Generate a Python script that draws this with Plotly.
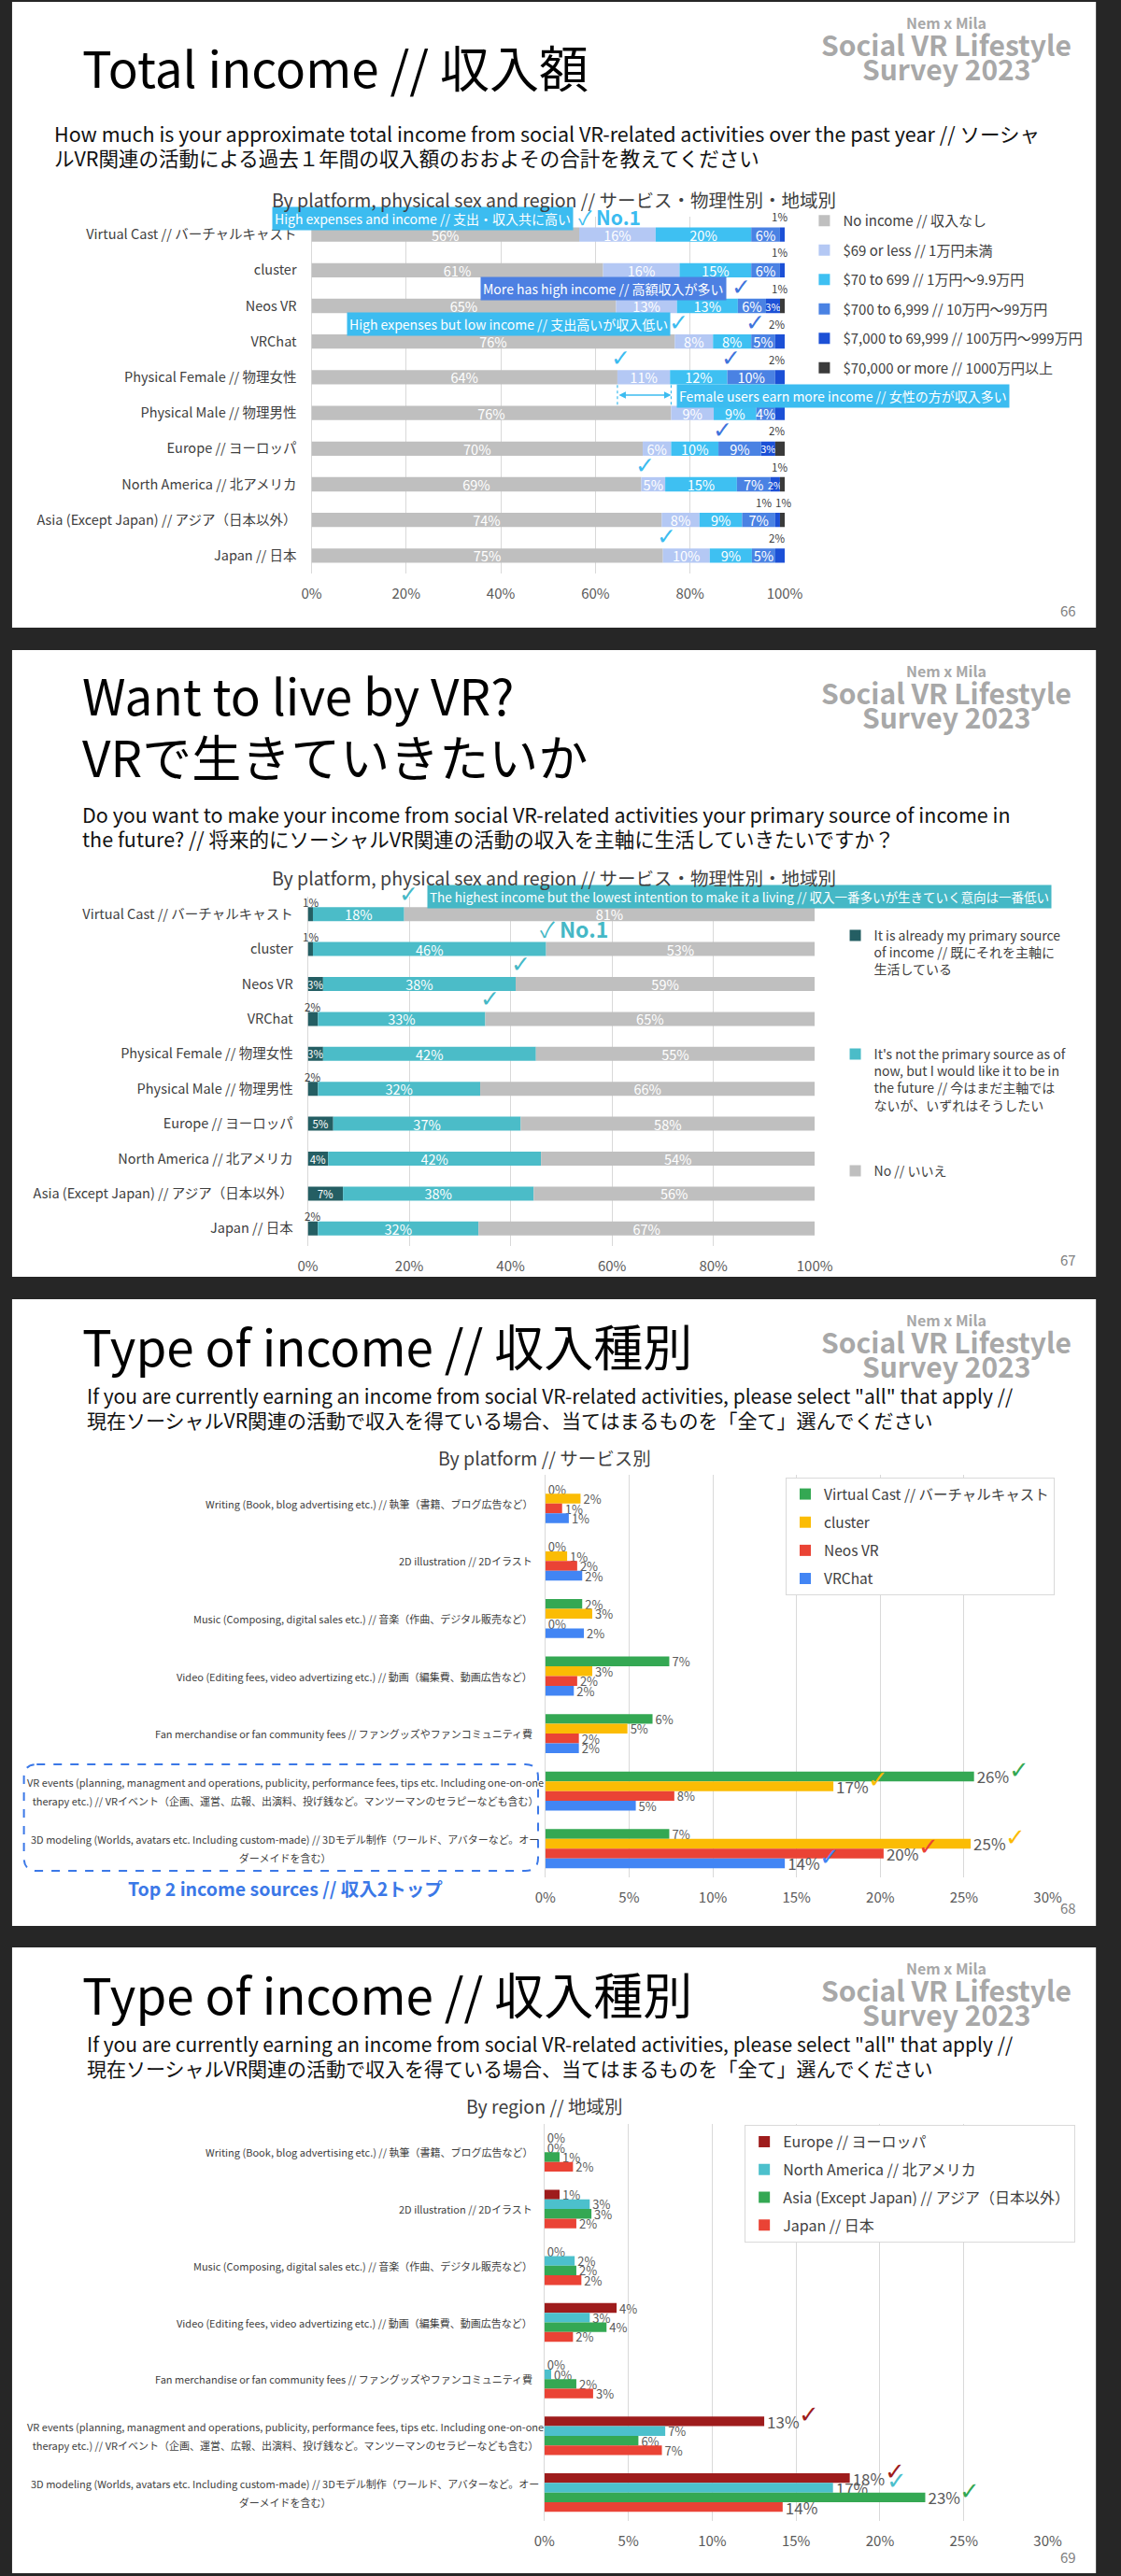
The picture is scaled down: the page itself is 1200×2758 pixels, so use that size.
import numpy as np
import plotly.graph_objects as go

W, H = 1200, 2758
FONT = "Noto Sans CJK JP, Noto Sans, sans-serif"
CHECK_FONT = "DejaVu Sans, Noto Sans CJK JP, sans-serif"

# ---------------- Panel 1 data: Total income ----------------
p1_categories = ["Virtual Cast // バーチャルキャスト", "cluster", "Neos VR", "VRChat",
                 "Physical Female // 物理女性", "Physical Male // 物理男性", "Europe // ヨーロッパ",
                 "North America // 北アメリカ", "Asia (Except Japan) // アジア（日本以外）", "Japan // 日本"]
p1_series = ["No income // 収入なし", "$69 or less // 1万円未満", "$70 to 699 // 1万円～9.9万円",
             "$700 to 6,999 // 10万円～99万円", "$7,000 to 69,999 // 100万円～999万円",
             "$70,000 or more // 1000万円以上"]
p1_no_income = [56, 61, 65, 76, 64, 76, 70, 69, 74, 75]
p1_69_or_less = [16, 16, 13, 8, 11, 9, 6, 5, 8, 10]
p1_70_to_699 = [20, 15, 13, 8, 12, 9, 10, 15, 9, 9]
p1_700_to_6999 = [6, 6, 6, 5, 10, 4, 9, 7, 7, 5]
p1_7000_to_69999 = [1, 1, 3, 2, 2, 2, 3, 2, 1, 2]
p1_70000_plus = [0, 0, 1, 0, 0, 0, 2, 1, 1, 0]
p1_x_ticks = [0, 20, 40, 60, 80, 100]

# ---------------- Panel 2 data: Want to live by VR ----------------
p2_categories = list(p1_categories)
p2_series = ["It is already my primary source<br>of income // 既にそれを主軸に<br>生活している",
             "It's not the primary source as of<br>now, but I would like it to be in<br>the future // 今はまだ主軸では<br>ないが、いずれはそうしたい",
             "No // いいえ"]
p2_already = [1, 1, 3, 2, 3, 2, 5, 4, 7, 2]
p2_would_like = [18, 46, 38, 33, 42, 32, 37, 42, 38, 32]
p2_no = [81, 53, 59, 65, 55, 66, 58, 54, 56, 67]

# ---------------- Panel 3/4 data: Type of income ----------------
p34_categories = ["Writing (Book, blog advertising etc.) // 執筆（書籍、ブログ広告など）",
                  "2D illustration // 2Dイラスト",
                  "Music (Composing, digital sales etc.) // 音楽（作曲、デジタル販売など）",
                  "Video (Editing fees, video advertizing etc.) // 動画（編集費、動画広告など）",
                  "Fan merchandise or fan community fees // ファングッズやファンコミュニティ費",
                  "VR events (planning, managment and operations, publicity, performance fees, tips etc. Including one-on-one therapy etc.) // VRイベント（企画、運営、広報、出演料、投げ銭など。マンツーマンのセラピーなども含む）",
                  "3D modeling (Worlds, avatars etc. Including custom-made) // 3Dモデル制作（ワールド、アバターなど。オーダーメイドを含む）"]
p34_label_lines = [
    ["Writing (Book, blog advertising etc.) // 執筆（書籍、ブログ広告など）"],
    ["2D illustration // 2Dイラスト"],
    ["Music (Composing, digital sales etc.) // 音楽（作曲、デジタル販売など）"],
    ["Video (Editing fees, video advertizing etc.) // 動画（編集費、動画広告など）"],
    ["Fan merchandise or fan community fees // ファングッズやファンコミュニティ費"],
    ["VR events (planning, managment and operations, publicity, performance fees, tips etc. Including one-on-one",
     "therapy etc.) // VRイベント（企画、運営、広報、出演料、投げ銭など。マンツーマンのセラピーなども含む）"],
    ["3D modeling (Worlds, avatars etc. Including custom-made) // 3Dモデル制作（ワールド、アバターなど。オー",
     "ダーメイドを含む）"],
]
p3_series = ["Virtual Cast // バーチャルキャスト", "cluster", "Neos VR", "VRChat"]
p3_virtual_cast = [0, 0, 2.2, 7.4, 6.4, 25.6, 7.4]
p3_cluster = [2.1, 1.3, 2.8, 2.8, 4.9, 17.2, 25.4]
p3_neos_vr = [1.0, 1.9, 0, 1.9, 2.0, 7.7, 20.2]
p3_vrchat = [1.4, 2.2, 2.3, 1.7, 2.0, 5.4, 14.3]
p4_series = ["Europe // ヨーロッパ", "North America // 北アメリカ", "Asia (Except Japan) // アジア（日本以外）", "Japan // 日本"]
p4_europe = [0, 0.9, 0, 4.3, 0, 13.1, 18.2]
p4_north_america = [0, 2.7, 1.8, 2.7, 0.4, 7.2, 17.2]
p4_asia = [0.9, 2.8, 1.9, 3.7, 1.9, 5.6, 22.7]
p4_japan = [1.7, 1.9, 2.2, 1.7, 2.9, 7.0, 14.2]
p34_x_ticks = [0, 5, 10, 15, 20, 25, 30]

# ---------------- Styling ----------------
P1_COLORS = ["#bfbfbf", "#b4c8f4", "#3ec0f2", "#4a82e3", "#1c50d6", "#3a3a3a"]
P2_COLORS = ["#245e63", "#4bbcc8", "#bfbfbf"]
P3_COLORS = ["#34a853", "#fbbc04", "#ea4335", "#4285f4"]
P4_COLORS = ["#9e1c1c", "#4cc0cc", "#34a853", "#ea4335"]
CYAN = "#3cbcf0"
BLUE = "#3f74dc"
TEAL = "#45b8c6"
GRID = "#d9d9d9"
TICK = "#595959"

PAN = {1: (331, 851, 232, 614), 2: (327, 884, 960, 1334), 3: (588, 1140, 1579, 2010), 4: (587, 1140, 2274, 2699)}
SLIDES = [(2, 672), (696, 1367), (1391, 2062), (2085, 2755)]


def px(x):
    return x / W


def py(y):
    return 1 - y / H


def sized(s, size):
    return f"<span style='font-size:{size}px'>{s}</span>"


fig = go.Figure()
annotations = []
shapes = []


def text(x, y, s, size, color="#111111", xanchor="left", yanchor="middle", weight="normal", family=FONT, **kw):
    annotations.append(dict(xref="paper", yref="paper", x=px(x), y=py(y), text=s, showarrow=False,
                            xanchor=xanchor, yanchor=yanchor,
                            font=dict(size=size, color=color, family=family, weight=weight), **kw))


def two_lines(x, y_center, l1, l2, size, spacing, color="#111111"):
    base = spacing / 1.3
    text(x, y_center, sized(l1, size) + "<br>" + sized(l2, size), base, color, align="left")


# slide backgrounds + watermark
for (t, b) in SLIDES:
    shapes.append(dict(type="rect", xref="paper", yref="paper", x0=px(2), x1=px(1193), y0=py(b), y1=py(t),
                       fillcolor="white", line_width=0, layer="below"))
    text(1029, t + 22, "Nem x Mila", 16, "#a8a8a8", xanchor="center", weight="bold")
    text(1029, t + 45, "Social VR Lifestyle", 30, "#a8a8a8", xanchor="center", weight="bold")
    text(1029, t + 71, "Survey 2023", 30, "#a8a8a8", xanchor="center", weight="bold")

# ---------------- Panel 1 ----------------
p1_mat = np.array([p1_no_income, p1_69_or_less, p1_70_to_699, p1_700_to_6999,
                   p1_7000_to_69999, p1_70000_plus], dtype=float).T
p1_norm = p1_mat / p1_mat.sum(axis=1, keepdims=True) * 100
p1_end = np.cumsum(p1_norm, axis=1)
p1_start = p1_end - p1_norm
P1_SMALL_INSIDE = {(2, 4), (6, 4), (7, 4)}
P1_ABOVE = {(0, 4): 0, (1, 4): 0, (2, 5): 0, (3, 4): 0, (4, 4): 0, (6, 5): 0, (7, 5): 0,
            (8, 4): -12, (8, 5): 4, (9, 4): 0}

for j, name in enumerate(p1_series):
    labels, sizes = [], []
    for i in range(len(p1_categories)):
        v = p1_mat[i, j]
        if (i, j) in P1_SMALL_INSIDE:
            labels.append(f"{v:.0f}%"); sizes.append(11)
        elif v >= 4:
            labels.append(f"{v:.0f}%"); sizes.append(14.5)
        else:
            labels.append(""); sizes.append(11)
    fig.add_trace(go.Bar(
        x=p1_norm[:, j], base=p1_start[:, j], y=p1_categories, orientation="h",
        offset=-0.2, width=0.4, marker=dict(color=P1_COLORS[j], line_width=0),
        text=labels, textposition="inside", insidetextanchor="middle", textangle=0,
        constraintext="none", textfont=dict(color="white", size=sizes, family=FONT),
        name=name, legend="legend", legendgroup=f"p1_{j}", hoverinfo="skip",
        xaxis="x", yaxis="y"))

for (i, j), xs in P1_ABOVE.items():
    annotations.append(dict(xref="x", yref="y", x=p1_start[i, j] + p1_norm[i, j] / 2, y=i,
                            text=f"{p1_mat[i, j]:.0f}%", showarrow=False, xshift=xs - 3, yshift=19,
                            font=dict(size=11.5, color="#404040", family=FONT)))

text(287, 233.5, "High expenses and income // 支出・収入共に高い", 14, "white", bgcolor=CYAN, borderpad=2)
text(516, 308.5, "More has high income // 高額収入が多い", 14, "white", bgcolor="#4d80e2", borderpad=2)
text(370, 346.5, "High expenses but low income // 支出高いが収入低い", 14, "white", bgcolor=CYAN, borderpad=2)
text(732, 423.5, "Female users earn more income // 女性の方が収入多い", 14, "white", bgcolor=CYAN, borderpad=2)
for (i, j, c) in [(2, 2, BLUE), (3, 0, CYAN), (3, 2, BLUE), (4, 0, CYAN), (4, 2, BLUE),
                  (6, 2, BLUE), (7, 0, CYAN), (9, 0, CYAN)]:
    annotations.append(dict(xref="x", yref="y", x=p1_end[i, j], y=i, text="✓", showarrow=False,
                            xshift=4, yshift=20, font=dict(size=25, color=c, family=CHECK_FONT)))
annotations.append(dict(xref="x", yref="y", x=p1_end[0, 0], y=0, text="✓ <b>No.1</b>", showarrow=False,
                        xanchor="left", xshift=-3, yshift=19, font=dict(size=21, color=CYAN, family=FONT)))
annotations.append(dict(xref="x", yref="y", x=p1_end[5, 0], y=4.5, ax=p1_end[4, 0], ay=4.5,
                        axref="x", ayref="y", text="", showarrow=True, arrowhead=2, startarrowhead=2,
                        arrowside="end+start", arrowsize=1, arrowwidth=1.5, arrowcolor=CYAN))
for xv in (p1_end[4, 0], p1_end[5, 0]):
    shapes.append(dict(type="line", xref="x", yref="y", x0=xv, x1=xv, y0=4.22, y1=4.78,
                       line=dict(color=CYAN, width=1.2, dash="dot")))

text(77, 71, "Total income // 収入額", 53, "#000000")
two_lines(46, 155, "How much is your approximate total income from social VR-related activities over the past year // ソーシャ",
          "ルVR関連の活動による過去１年間の収入額のおおよその合計を教えてください", 21.5, 26)
text(597, 213, "By platform, physical sex and region // サービス・物理性別・地域別", 19.5, "#404040", xanchor="center")
text(1163, 653, "66", 15, "#808080", xanchor="center")

# ---------------- Panel 2 ----------------
p2_mat = np.array([p2_already, p2_would_like, p2_no], dtype=float).T
p2_norm = p2_mat / p2_mat.sum(axis=1, keepdims=True) * 100
p2_end = np.cumsum(p2_norm, axis=1)
p2_start = p2_end - p2_norm
for j, name in enumerate(p2_series):
    labels, sizes = [], []
    for i in range(len(p2_categories)):
        v = p2_mat[i, j]
        if v <= 2:
            labels.append(""); sizes.append(11)
            annotations.append(dict(xref="x2", yref="y2", x=p2_start[i, j] + p2_norm[i, j] / 2, y=i,
                                    text=f"{v:.0f}%", showarrow=False, yshift=13,
                                    font=dict(size=11.5, color="#404040", family=FONT)))
        elif v < 10:
            labels.append(f"{v:.0f}%"); sizes.append(11.5)
        else:
            labels.append(f"{v:.0f}%"); sizes.append(14.5)
    fig.add_trace(go.Bar(
        x=p2_norm[:, j], base=p2_start[:, j], y=p2_categories, orientation="h",
        offset=-0.2, width=0.4, marker=dict(color=P2_COLORS[j], line_width=0),
        text=labels, textposition="inside", insidetextanchor="middle", textangle=0,
        constraintext="none", textfont=dict(color="white", size=sizes, family=FONT),
        name=name, legend=f"legend{j + 2}", hoverinfo="skip", xaxis="x2", yaxis="y2"))

text(458, 960, "The highest income but the lowest intention to make it a living // 収入一番多いが生きていく意向は一番低い",
     13.5, "white", bgcolor=TEAL, borderpad=2)
for i in (0, 2, 3):
    annotations.append(dict(xref="x2", yref="y2", x=p2_end[i, 1], y=i, text="✓", showarrow=False,
                            xshift=5, yshift=21, font=dict(size=25, color=TEAL, family=CHECK_FONT)))
annotations.append(dict(xref="x2", yref="y2", x=p2_end[1, 1], y=1, text="✓ <b>No.1</b>", showarrow=False,
                        xanchor="left", xshift=-9, yshift=22, font=dict(size=23, color=TEAL, family=FONT)))

text(77, 776, sized("Want to live by VR?", 53) + "<br>" + sized("VRで生きていきたいか", 53), 51, "#000000", align="left")
two_lines(77, 884.5, "Do you want to make your income from social VR-related activities your primary source of income in",
          "the future? // 将来的にソーシャルVR関連の活動の収入を主軸に生活していきたいですか？", 21.5, 25.5)
text(597, 939, "By platform, physical sex and region // サービス・物理性別・地域別", 19.5, "#404040", xanchor="center")
text(1163, 1348, "67", 15, "#808080", xanchor="center")

# ---------------- Panels 3 & 4 ----------------
BARGAP = 0.32


def grouped_panel(k, series, values, colors, legend_name, checks, page, subtitle):
    xa, ya = f"x{k}", f"y{k}"
    for j, (name, vals) in enumerate(zip(series, values)):
        fig.add_trace(go.Bar(
            x=vals, y=p34_categories, orientation="h", marker=dict(color=colors[j], line_width=0),
            text=[f"{round(v)}%" for v in vals], textposition="outside", cliponaxis=False,
            constraintext="none", textangle=0,
            textfont=dict(color="#595959", size=[17 if v >= 10 else 13 for v in vals], family=FONT),
            name=name, legend=legend_name, legendgroup=f"p{k}_{j}", hoverinfo="skip",
            xaxis=xa, yaxis=ya))
    x0, x1, y0, y1 = PAN[k]
    cat_px = (y1 - y0) / len(p34_categories)
    bar_px = (1 - BARGAP) * cat_px / len(series)
    for (ci, sj, c, extra) in checks:
        annotations.append(dict(xref=xa, yref=ya, x=values[sj][ci], y=p34_categories[ci], text="✓",
                                showarrow=False, xshift=48 + extra, yshift=-(sj - 1.5) * bar_px + 7,
                                font=dict(size=26, color=c, family=CHECK_FONT)))
    for ci, lines in enumerate(p34_label_lines):
        if len(lines) == 1:
            annotations.append(dict(xref="paper", yref=ya, x=px(576), y=p34_categories[ci], text=lines[0],
                                    showarrow=False, xanchor="right",
                                    font=dict(size=11, color="#404040", family=FONT)))
        else:
            annotations.append(dict(xref="paper", yref=ya, x=px(302), y=p34_categories[ci],
                                    text="<br>".join(sized(ln, 11) for ln in lines), align="center",
                                    showarrow=False, xanchor="center",
                                    font=dict(size=20 / 1.3, color="#404040", family=FONT)))
    t = SLIDES[k - 1][0]
    text(77, t + 49, "Type of income // 収入種別", 53, "#000000")
    two_lines(82, t + 116, "If you are currently earning an income from social VR-related activities, please select \"all\" that apply //",
              "現在ソーシャルVR関連の活動で収入を得ている場合、当てはまるものを「全て」選んでください", 21, 26)
    text(587, t + 169, subtitle, 19.5, "#404040", xanchor="center")
    text(1163, page[1], page[0], 15, "#808080", xanchor="center")


grouped_panel(3, p3_series, [p3_virtual_cast, p3_cluster, p3_neos_vr, p3_vrchat], P3_COLORS, "legend5",
              [(5, 0, P3_COLORS[0], 0), (5, 1, P3_COLORS[1], 0), (6, 1, P3_COLORS[1], 0),
               (6, 2, P3_COLORS[2], 0), (6, 3, P3_COLORS[3], 0)], ("68", 2042), "By platform // サービス別")
grouped_panel(4, p4_series, [p4_europe, p4_north_america, p4_asia, p4_japan], P4_COLORS, "legend6",
              [(5, 0, P4_COLORS[0], 0), (6, 0, P4_COLORS[0], 0), (6, 1, P4_COLORS[1], 20),
               (6, 2, P4_COLORS[2], 0)], ("69", 2737), "By region // 地域別")


def rrect(x0, y0, x1, y1, r):
    return (f"M {px(x0 + r)},{py(y0)} L {px(x1 - r)},{py(y0)} Q {px(x1)},{py(y0)} {px(x1)},{py(y0 + r)} "
            f"L {px(x1)},{py(y1 - r)} Q {px(x1)},{py(y1)} {px(x1 - r)},{py(y1)} "
            f"L {px(x0 + r)},{py(y1)} Q {px(x0)},{py(y1)} {px(x0)},{py(y1 - r)} "
            f"L {px(x0)},{py(y0 + r)} Q {px(x0)},{py(y0)} {px(x0 + r)},{py(y0)} Z")


shapes.append(dict(type="path", xref="paper", yref="paper", path=rrect(15, 1889, 580, 2003, 14),
                   line=dict(color="#3b78e7", width=2, dash="dash")))
text(302, 2022, "<b>Top 2 income sources // 収入2トップ</b>", 19.5, "#3b78e7", xanchor="center")

# ---------------- Axes ----------------
layout_axes = {}
for k in (1, 2, 3, 4):
    x0, x1, y0, y1 = PAN[k]
    sx = "" if k == 1 else str(k)
    ticks = p1_x_ticks if k <= 2 else p34_x_ticks
    cats = p1_categories if k <= 2 else p34_categories
    layout_axes[f"xaxis{sx}"] = dict(
        domain=[px(x0), px(x1)], anchor=f"y{sx}", range=[ticks[0], ticks[-1]], tickvals=ticks,
        ticktext=[f"{t}%" for t in ticks], showgrid=True, gridcolor=GRID, gridwidth=1,
        zeroline=True, zerolinecolor=GRID, zerolinewidth=1, showline=False,
        ticks="outside", ticklen=8, tickcolor="rgba(0,0,0,0)",
        tickfont=dict(size=15, color=TICK, family=FONT), fixedrange=True)
    layout_axes[f"yaxis{sx}"] = dict(
        domain=[py(y1), py(y0)], anchor=f"x{sx}", type="category", categoryorder="array",
        categoryarray=cats, range=[len(cats) - 0.5, -0.5], showgrid=False, zeroline=False,
        showline=False, showticklabels=(k <= 2), ticks="outside", ticklen=12,
        tickcolor="rgba(0,0,0,0)", tickfont=dict(size=14.5, color="#404040", family=FONT), fixedrange=True)

legend_common = dict(xanchor="left", yanchor="top", bgcolor="rgba(0,0,0,0)", valign="top",
                     itemclick=False, itemdoubleclick=False)
fig.update_layout(
    width=W, height=H, margin=dict(l=0, r=0, t=0, b=0),
    paper_bgcolor="#262626", plot_bgcolor="white",
    font=dict(family=FONT), barmode="group", bargap=BARGAP, bargroupgap=0,
    showlegend=True,
    legend=dict(x=px(874), y=py(220), traceorder="grouped", tracegroupgap=9,
                font=dict(size=15, color="#404040", family=FONT), **legend_common),
    legend2=dict(x=px(908), y=py(986), font=dict(size=14, color="#404040", family=FONT), **legend_common),
    legend3=dict(x=px(908), y=py(1113), font=dict(size=14, color="#404040", family=FONT), **legend_common),
    legend4=dict(x=px(908), y=py(1238), font=dict(size=14, color="#404040", family=FONT), **legend_common),
    legend5=dict(x=px(852), y=py(1582), traceorder="grouped", tracegroupgap=7,
                 font=dict(size=15.5, color="#404040", family=FONT), bordercolor=GRID, borderwidth=1,
                 **{**legend_common, "bgcolor": "white"}),
    legend6=dict(x=px(807), y=py(2275), traceorder="grouped", tracegroupgap=6,
                 font=dict(size=16, color="#404040", family=FONT), bordercolor=GRID, borderwidth=1,
                 **{**legend_common, "bgcolor": "white"}),
    annotations=annotations, shapes=shapes, **layout_axes)

fig.write_html("out.html", config={"displayModeBar": False},
               post_script="document.body.style.margin='0';document.body.style.background='#262626';")
